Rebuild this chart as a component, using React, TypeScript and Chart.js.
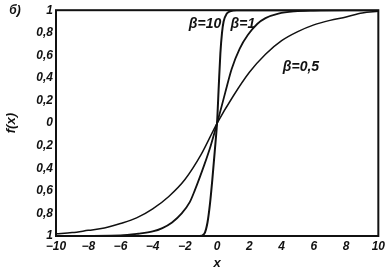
import React, { useEffect, useRef } from "react";
import { Chart, registerables } from "chart.js";

Chart.register(...registerables);

// Values
const beta10X = [-10, -1.1, -0.8, -0.6, -0.45, -0.3, -0.15, 0, 0.1, 0.2, 0.3, 0.4, 0.6, 0.8, 1.2, 10];
const beta10Y = [-1, -1, -0.98, -0.88, -0.72, -0.5, -0.25, 0.02, 0.33, 0.62, 0.8, 0.9, 0.97, 0.99, 1, 1];

const beta1X = [-10, -6, -4.9, -4, -3.4, -2.8, -2.2, -1.7, -1.4, -0.8, -0.4, 0, 0.5, 0.9, 1.4, 1.9, 2.5, 3, 3.8, 4.8, 6, 8, 10];
const beta1Y = [-1, -0.995, -0.98, -0.96, -0.93, -0.88, -0.8, -0.7, -0.6, -0.37, -0.2, 0, 0.27, 0.48, 0.66, 0.78, 0.88, 0.93, 0.97, 0.99, 0.997, 1, 1];

const beta05X = [-10, -9, -8, -7, -6, -5, -4, -3, -2, -1, 0, 1, 2, 3, 4, 5, 6, 7, 8, 9, 10];
const beta05Y = [-0.98, -0.97, -0.95, -0.93, -0.89, -0.84, -0.76, -0.65, -0.5, -0.28, 0, 0.24, 0.45, 0.61, 0.73, 0.81, 0.87, 0.91, 0.94, 0.975, 0.99];

const xTicks = [-10, -8, -6, -4, -2, 0, 2, 4, 6, 8, 10];
const yTicks = [-1, -0.8, -0.6, -0.4, -0.2, 0, 0.2, 0.4, 0.6, 0.8, 1];

const labels = [
  { text: "β=10", x: -0.75, y: 0.88 },
  { text: "β=1", x: 1.6, y: 0.88 },
  { text: "β=0,5", x: 5.2, y: 0.5 },
];

const FONT = '"Liberation Sans", Arial, sans-serif';

const toPts = (xs: number[], ys: number[]) => xs.map((x, i) => ({ x, y: ys[i] }));

export default function App() {
  const ref = useRef<HTMLCanvasElement | null>(null);

  useEffect(() => {
    document.body.style.margin = "0";
    const canvas = ref.current!;
    const annot = {
      id: "annot",
      afterDatasetsDraw(chart: any) {
        const { ctx, chartArea, scales } = chart;
        ctx.save();
        ctx.strokeStyle = "#111";
        ctx.lineWidth = 2;
        ctx.strokeRect(chartArea.left, chartArea.top, chartArea.right - chartArea.left, chartArea.bottom - chartArea.top);
        ctx.fillStyle = "#111";
        ctx.textAlign = "center";
        ctx.textBaseline = "middle";
        ctx.font = `italic bold 14px ${FONT}`;
        for (const l of labels) {
          ctx.fillText(l.text, scales.x.getPixelForValue(l.x), scales.y.getPixelForValue(l.y));
        }
        ctx.font = `italic bold 12px ${FONT}`;
        ctx.fillText("б)", 15, 11);
        ctx.restore();
      },
    };
    const common = {
      showLine: true,
      pointRadius: 0,
      borderColor: "#111",
      cubicInterpolationMode: "monotone" as const,
      fill: false,
    };
    const chart = new Chart(canvas, {
      type: "scatter",
      data: {
        datasets: [
          { ...common, label: "β=10", data: toPts(beta10X, beta10Y), borderWidth: 2 },
          { ...common, label: "β=1", data: toPts(beta1X, beta1Y), borderWidth: 1.8 },
          { ...common, label: "β=0,5", data: toPts(beta05X, beta05Y), borderWidth: 1.5 },
        ],
      },
      options: {
        animation: false,
        responsive: false,
        layout: { padding: { left: 0, right: 7, top: 9, bottom: 0 } },
        plugins: { legend: { display: false }, tooltip: { enabled: false } },
        scales: {
          x: {
            type: "linear",
            min: -10,
            max: 10,
            afterBuildTicks: (s: any) => {
              s.ticks = xTicks.map((v) => ({ value: v }));
            },
            afterFit: (s: any) => {
              s.height = 35;
            },
            grid: { display: false, drawTicks: false },
            border: { display: false },
            ticks: {
              padding: 3,
              color: "#111",
              font: { family: FONT, size: 12, style: "italic", weight: "bold" },
              callback: (v: any) => (v < 0 ? "\u2212" + Math.abs(v) : String(v)),
            },
            title: {
              display: true,
              text: "x",
              color: "#111",
              padding: { top: 0, bottom: 0 },
              font: { family: FONT, size: 13, style: "italic", weight: "bold" },
            },
          },
          y: {
            type: "linear",
            min: -1,
            max: 1,
            afterBuildTicks: (s: any) => {
              s.ticks = yTicks.map((v) => ({ value: v }));
            },
            afterFit: (s: any) => {
              s.width = 56;
            },
            grid: { display: false, drawTicks: false },
            border: { display: false },
            ticks: {
              padding: 3,
              color: "#111",
              font: { family: FONT, size: 12, style: "italic", weight: "bold" },
              callback: (v: any) => String(Math.round(Math.abs(v) * 10) / 10).replace(".", ","),
            },
            title: {
              display: true,
              text: "f(x)",
              color: "#111",
              padding: { top: 4, bottom: 0 },
              font: { family: FONT, size: 13, style: "italic", weight: "bold" },
            },
          },
        },
      },
      plugins: [annot],
    });
    return () => chart.destroy();
  }, []);

  return (
    <div style={{ position: "absolute", left: 0, top: 0, width: 388, height: 271, background: "#fff" }}>
      <canvas ref={ref} width={388} height={271} style={{ width: 388, height: 271, display: "block" }} />
    </div>
  );
}
